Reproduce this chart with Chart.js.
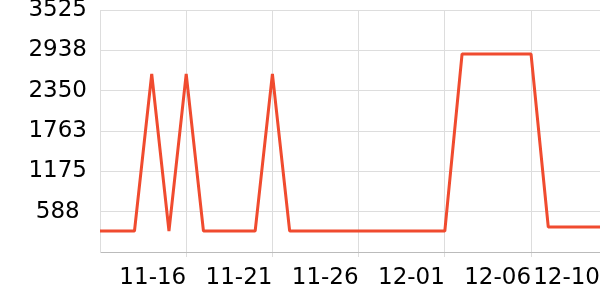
<!DOCTYPE html>
<html>
<head>
<meta charset="utf-8">
<script src="https://cdn.jsdelivr.net/npm/chart.js@4/dist/chart.umd.min.js"></script>
<style>
  html, body { margin: 0; padding: 0; background: #fff; }
  #wrap { width: 600px; height: 300px; }
</style>
</head>
<body>
<div id="wrap"><canvas id="chart"></canvas></div>
<script>
const dates = [
  "11-11", "11-12", "11-13", "11-14", "11-15", "11-16", "11-17", "11-18", "11-19", "11-20",
  "11-21", "11-22", "11-23", "11-24", "11-25", "11-26", "11-27", "11-28", "11-29", "11-30",
  "12-01", "12-02", "12-03", "12-04", "12-05", "12-06", "12-07", "12-08", "12-09", "12-10"
];
const values = [
  306, 306, 306, 2593, 306, 2593, 306, 306, 306, 306,
  2593, 306, 306, 306, 306, 306, 306, 306, 306, 306,
  306, 2884, 2884, 2884, 2884, 2884, 364, 364, 364, 364
];
const shownDates = ["11-16", "11-21", "11-26", "12-01", "12-06", "12-10"];
const yTicks = [0, 587.5, 1175, 1762.5, 2350, 2937.5, 3525];

const family = "'DejaVu Sans', sans-serif";

const config = {
  type: "line",
  data: {
    labels: dates,
    datasets: [
      {
        data: values,
        borderColor: "#f04b2f",
        borderWidth: 3,
        borderJoinStyle: "bevel",
        pointRadius: 0,
        tension: 0,
        fill: false,
      },
    ],
  },
  options: {
    responsive: true,
    maintainAspectRatio: false,
    animation: false,
    layout: { autoPadding: false, padding: 0 },
    plugins: { legend: { display: false }, tooltip: { enabled: false } },
    scales: {
      x: {
        offset: false,
        grid: { color: "#dddddd", tickLength: 5 },
        border: { color: "#bbbbbb" },
        ticks: {
          autoSkip: false,
          maxRotation: 0,
          align: "end",
          padding: 0,
          color: "#000",
          font: { family: family, size: 23, lineHeight: 1.8 },
          callback: function (val, i) {
            const d = dates[i];
            return shownDates.includes(d) ? d : null;
          },
        },
        afterFit: function (s) { s.height = 48; },
      },
      y: {
        min: 0,
        max: 3525,
        grid: { color: "#dddddd", drawTicks: true, tickLength: 13, tickColor: "rgba(0,0,0,0)" },
        border: { color: "#dddddd" },
        afterBuildTicks: function (s) { s.ticks = yTicks.map(v => ({ value: v })); },
        ticks: {
          crossAlign: "center",
          padding: 0,
          color: "#000",
          font: { family: family, size: 23, lineHeight: 0.87 },
          callback: function (v) { return v === 0 ? "" : String(Math.round(v)); },
        },
        afterFit: function (s) { s.width = 100; },
      },
    },
  },
};

new Chart(document.getElementById("chart"), config);
</script>
</body>
</html>
